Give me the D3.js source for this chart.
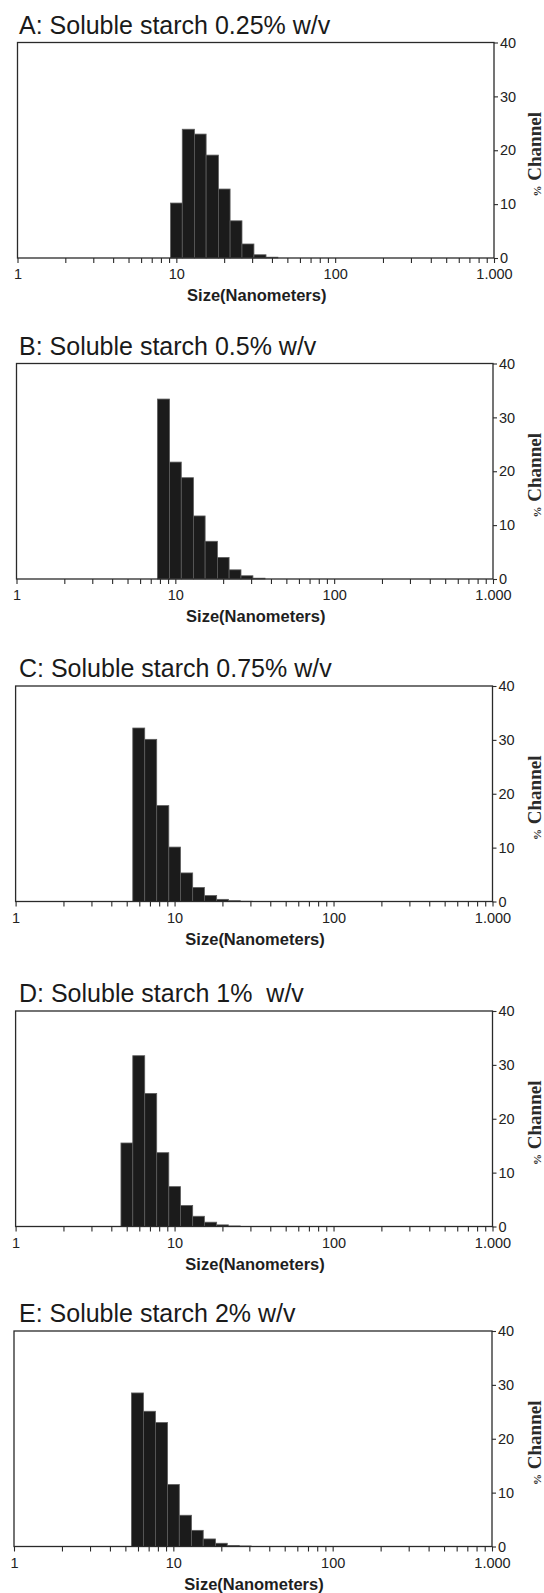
<!DOCTYPE html>
<html>
<head>
<meta charset="utf-8">
<script src="https://cdn.jsdelivr.net/npm/d3@7"></script>
<style>
  html, body { margin: 0; padding: 0; background: #fff; }
  svg { display: block; }
  .title { font-family: "Liberation Sans", Arial, sans-serif; font-size: 25px; fill: #1a1a1a; white-space: pre; }
  .tick text { font-family: "Liberation Sans", Arial, sans-serif; font-size: 14.5px; fill: #222; }
  .xlabel { font-family: "Liberation Sans", Arial, sans-serif; font-size: 16.5px; font-weight: bold; fill: #1e1e1e; }
  .ylabel { font-family: "Liberation Serif", "Times New Roman", serif; font-size: 19px; font-weight: bold; fill: #2a2a2a; }
</style>
</head>
<body>
<svg id="chart" width="544" height="1593"></svg>
<script>
// ---------------- data ----------------
// size-channel bin edges (nm), shared by all panels
const binEdges = [4.6, 5.46, 6.49, 7.72, 9.2, 10.9, 13.0, 15.4, 18.4, 21.8, 25.9, 30.8, 36.7, 43.6, 51.9];

const titles = [
  "A: Soluble starch 0.25% w/v",
  "B: Soluble starch 0.5% w/v",
  "C: Soluble starch 0.75% w/v",
  "D: Soluble starch 1%  w/v",
  "E: Soluble starch 2% w/v"
];

// % channel per bin (aligned with binEdges intervals)
const valuesA = [0, 0, 0, 0, 10.2, 23.9, 23.0, 19.1, 12.8, 6.9, 2.6, 0.6, 0.15, 0];
const valuesB = [0, 0, 0, 33.4, 21.7, 18.8, 11.7, 7.0, 4.0, 1.7, 0.6, 0.15, 0, 0];
const valuesC = [0, 32.2, 30.1, 17.8, 10.1, 5.3, 2.6, 1.1, 0.4, 0.15, 0.05, 0, 0, 0];
const valuesD = [15.5, 31.7, 24.7, 13.7, 7.4, 3.9, 1.9, 0.8, 0.3, 0.1, 0, 0, 0, 0];
const valuesE = [0, 28.5, 25.1, 23.0, 11.5, 5.8, 3.0, 1.4, 0.6, 0.2, 0.1, 0, 0, 0];

const xMajorTicks = [1, 10, 100, 1000];
const xMajorLabels = ["1", "10", "100", "1.000"];
const yTicks = [0, 10, 20, 30, 40];
const xAxisTitle = "Size(Nanometers)";
const yAxisTitlePct = "%";
const yAxisTitleText = " Channel";

// ---------------- layout ----------------
const panelTop = [42.5, 363.5, 686, 1011, 1331];
const panelLeft = [17.5, 16.5, 15.6, 15.6, 14];
const panelRight = [494, 493, 492.5, 492.5, 492];
const plotH = 215.5;

const svg = d3.select("#chart");
const allValues = [valuesA, valuesB, valuesC, valuesD, valuesE];

allValues.forEach((vals, p) => {
  const top = panelTop[p], left = panelLeft[p], right = panelRight[p];
  const bottom = top + plotH;
  const x = d3.scaleLog().domain([1, 1000]).range([left, right]);
  const y = d3.scaleLinear().domain([0, 40]).range([bottom, top]);
  const g = svg.append("g");

  // title
  g.append("text").attr("class", "title")
    .attr("x", 19).attr("y", top - 9)
    .text(titles[p]);

  // bars
  const bins = vals.map((v, i) => ({ x0: binEdges[i], x1: binEdges[i + 1], v }))
    .filter(d => d.v > 0);
  g.append("g").selectAll("rect").data(bins).join("rect")
    .attr("x", d => x(d.x0))
    .attr("width", d => x(d.x1) - x(d.x0))
    .attr("y", d => y(d.v))
    .attr("height", d => y(0) - y(d.v))
    .attr("fill", "#1b1b1b")
    .attr("stroke", "#5c5c5c")
    .attr("stroke-width", 0.8);

  // frame
  g.append("rect")
    .attr("x", left).attr("y", top)
    .attr("width", right - left).attr("height", plotH)
    .attr("fill", "none").attr("stroke", "#2a2a2a").attr("stroke-width", 1.3);

  // bottom axis (log, with minor ticks)
  const xa = d3.axisBottom(x)
    .tickValues(x.ticks())
    .tickSize(5)
    .tickSizeOuter(0)
    .tickPadding(6)
    .tickFormat(d => {
      const k = xMajorTicks.indexOf(d);
      return k >= 0 ? xMajorLabels[k] : "";
    });
  const gx = g.append("g").attr("transform", `translate(0,${bottom})`).call(xa);
  gx.select(".domain").remove();
  gx.selectAll(".tick line").attr("stroke", "#2a2a2a").attr("stroke-width", 1.1);

  // right axis
  const ya = d3.axisRight(y).tickValues(yTicks).tickSize(4).tickSizeOuter(0).tickPadding(2);
  const gy = g.append("g").attr("transform", `translate(${right},0)`).call(ya);
  gy.select(".domain").remove();
  gy.selectAll(".tick line").attr("stroke", "#2a2a2a").attr("stroke-width", 1.1);

  // x axis title
  g.append("text").attr("class", "xlabel")
    .attr("x", (x(1) + x(1000)) / 2 + 1).attr("y", bottom + 43)
    .attr("text-anchor", "middle")
    .text(xAxisTitle);

  // y axis title (rotated)
  const yl = g.append("text").attr("class", "ylabel")
    .attr("transform", `translate(541,${(top + bottom) / 2 + 4}) rotate(-90)`)
    .attr("text-anchor", "middle");
  yl.append("tspan").attr("font-size", "11px").text(yAxisTitlePct);
  yl.append("tspan").text(yAxisTitleText);
});
</script>
</body>
</html>
